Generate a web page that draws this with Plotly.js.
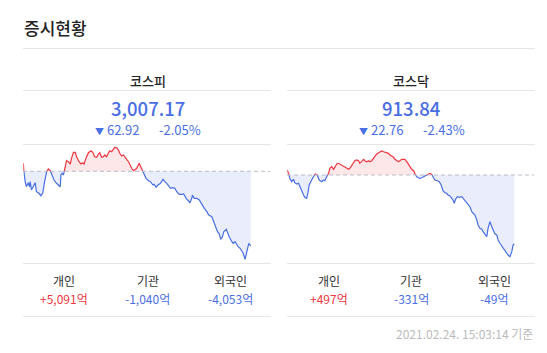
<!DOCTYPE html>
<html>
<head>
<meta charset="utf-8">
<script src="https://cdn.plot.ly/plotly-3.0.1.min.js"></script>
<style>
  html, body { margin: 0; padding: 0; background: #fff; }
  #chart { width: 547px; height: 353px; }
</style>
</head>
<body>
<div id="chart"></div>
<script>
// ---- data ----
const indexNames = ["코스피", "코스닥"];
const indexClose = [3007.17, 913.84];
const indexChange = [-62.92, -22.76];
const indexPct = [-2.05, -2.43];
const investorLabels = ["개인", "기관", "외국인"];
const kospiFlows = [5091, -1040, -4053];
const kosdaqFlows = [497, -331, -49];
const asOf = "2021.02.24. 15:03:14 기준";

// minutes after 09:00
const kospiMin = [0,1,3,5,8,10,11,13,16,19,21,25,28,31,34,36,40,43,46,49,53,59,60,62,64,67,69,72,75,77,80,83,85,89,92,95,97,100,104,108,111,114,117,120,122,125,128,130,133,136,138,141,144,146,149,152,154,157,160,162,165,168,170,173,176,178,181,185,188,191,193,196,200,203,207,209,212,215,219,223,226,229,233,235,238,242,245,249,253,256,260,263,266,269,270,273,277,281,284,286,289,293,296,301,303,306,310,313,315,318,320,324,326,329,333,335,338,341,343,346,349,351,354,355,358,360,363];
const kospiVal = [3076.83,3069.75,3061.33,3057.12,3060.49,3057.12,3061.33,3054.34,3057.12,3060.49,3052.91,3051.56,3049.54,3051.56,3061.33,3068.91,3072.03,3070.60,3066.97,3062.76,3059.98,3057.12,3066.97,3068.41,3066.97,3073.96,3079.02,3078.18,3076.24,3081.04,3086.09,3086.09,3082.39,3078.18,3076.24,3077.33,3076.24,3081.04,3085.76,3087.44,3086.09,3082.39,3081.88,3084.66,3085.76,3081.88,3082.39,3083.82,3082.39,3085.76,3087.44,3086.60,3088.62,3090.31,3089.97,3088.03,3085.25,3082.98,3083.82,3081.88,3080.20,3078.18,3075.40,3072.62,3070.60,3071.18,3072.62,3076.83,3073.96,3069.75,3066.97,3064.19,3062.17,3061.33,3058.55,3059.14,3056.61,3058.55,3059.98,3063.35,3061.33,3059.98,3057.12,3055.77,3056.28,3055.77,3052.91,3050.72,3050.72,3050.97,3047.35,3045.92,3043.64,3047.35,3050.13,3047.35,3047.35,3045.92,3043.14,3040.86,3038.92,3036.06,3033.28,3031.85,3029.07,3024.86,3019.21,3017.28,3012.81,3015.00,3019.21,3021.24,3018.37,3014.50,3010.79,3009.44,3010.79,3008.01,3006.58,3005.23,3002.37,3001.02,2996.00,2998.16,3003.80,3009.44,3007.17];

const kosdaqMin = [0,2,4,7,10,12,15,18,20,23,26,28,31,33,35,39,42,45,48,51,55,58,60,63,66,68,71,74,76,79,82,84,87,90,92,95,98,100,103,106,108,111,114,116,119,122,124,127,130,132,135,138,140,143,146,148,151,154,156,159,162,164,167,170,172,175,178,183,188,191,194,196,199,202,204,207,210,212,215,220,225,228,231,233,236,240,243,246,249,252,255,257,260,263,265,267,269,272,275,279,281,284,287,289,292,295,297,300,303,305,308,311,313,316,319,321,324,327,329,332,335,337,340,343,345,348,351,353,356,359,361,363];
const kosdaqVal = [938.25,937.16,935.51,934.39,935.18,934.06,933.63,933.86,932.74,931.09,930.00,929.24,928.91,930.76,933.30,934.95,936.27,936.93,936.55,934.95,934.39,934.95,934.72,936.04,937.16,938.81,939.34,938.48,939.34,940.23,940.46,940.23,939.90,939.34,939.14,938.81,938.48,938.81,939.90,940.66,941.32,941.55,941.32,940.46,940.99,941.78,941.32,940.99,941.32,940.99,941.32,942.11,942.87,943.53,943.96,944.29,944.52,944.29,944.19,943.96,943.76,943.20,942.87,942.44,941.78,941.32,940.99,941.78,941.78,940.99,939.90,939.14,938.48,938.02,936.93,936.04,935.71,935.51,935.71,936.27,936.83,937.16,936.83,935.84,934.95,934.72,934.39,933.30,931.42,930.76,930.56,930.00,929.67,928.91,928.35,927.27,928.58,929.44,929.24,929.44,928.91,928.35,927.46,926.70,926.14,924.49,923.97,923.41,921.76,920.11,919.02,918.69,917.90,917.14,916.25,919.02,921.20,919.55,918.69,917.14,916.81,915.16,914.07,913.18,912.42,911.86,910.97,910.21,909.65,911.30,913.51,913.84];

// ---- styling ----
const W = 547, H = 353;
const RED = "#ec3641", BLUE = "#4a6ee3";
const RED_FILL = "rgba(236,54,65,0.12)", BLUE_FILL = "rgba(74,110,227,0.12)";
const FONT = "'Noto Sans CJK KR', 'Noto Sans', sans-serif";
const px = v => v / W;
const py = v => 1 - v / H;

function withCrossings(xs, ys, base) {
  const X = [], Y = [];
  for (let i = 0; i < xs.length; i++) {
    X.push(xs[i]); Y.push(ys[i]);
    if (i < xs.length - 1 && (ys[i] - base) * (ys[i + 1] - base) < 0) {
      const t = (base - ys[i]) / (ys[i + 1] - ys[i]);
      X.push(xs[i] + t * (xs[i + 1] - xs[i])); Y.push(base);
    }
  }
  return [X, Y];
}

function panelTraces(mins, vals, base, xa, ya) {
  const [X, Y] = withCrossings(mins, vals, base);
  const baseY = X.map(() => base);
  const common = { x: X, xaxis: xa, yaxis: ya, mode: "lines", hoverinfo: "skip", showlegend: false };
  return [
    Object.assign({}, common, { y: baseY, line: { width: 0 } }),
    Object.assign({}, common, { y: Y.map(v => Math.max(v, base)), line: { width: 0 }, fill: "tonexty", fillcolor: RED_FILL }),
    Object.assign({}, common, { y: baseY, line: { width: 0 } }),
    Object.assign({}, common, { y: Y.map(v => Math.min(v, base)), line: { width: 0 }, fill: "tonexty", fillcolor: BLUE_FILL }),
    Object.assign({}, common, { y: Y.map(v => v >= base ? v : null), line: { color: RED, width: 1.2 } }),
    Object.assign({}, common, { y: Y.map(v => v <= base ? v : null), line: { color: BLUE, width: 1.2 } })
  ];
}

const prev = indexClose.map((c, i) => +(c - indexChange[i]).toFixed(2));

const traces = [].concat(
  panelTraces(kospiMin, kospiVal, prev[0], "x", "y"),
  panelTraces(kosdaqMin, kosdaqVal, prev[1], "x2", "y2")
);

const fmt = n => Math.abs(n).toLocaleString("en-US");
const fmtSigned = n => (n > 0 ? "+" : "-") + fmt(n) + "억";

const panels = [
  { left: 23, right: 271, mid: 147.5, invMid: [64, 147.5, 230], flows: kospiFlows, chgX: 93, pctX: 157 },
  { left: 287, right: 535, mid: 411, invMid: [328.5, 411, 494], flows: kosdaqFlows, chgX: 357, pctX: 421 }
];

const annotations = [];
const shapes = [];
function ann(text, x, y, size, color, xanchor, weight) {
  annotations.push({ text, x: px(x), y: py(y), xref: "paper", yref: "paper", showarrow: false,
    xanchor: xanchor || "center", yanchor: "middle", font: { family: FONT, size, color, weight: weight || 400 } });
}
function hline(x0, x1, y, color) {
  shapes.push({ type: "line", xref: "paper", yref: "paper", x0: px(x0), x1: px(x1), y0: py(y), y1: py(y),
    line: { color: color || "#e6e6e6", width: 1 } });
}

ann("증시현황", 22, 27.5, 17, "#222", "left", 500);
hline(23, 535, 48.5);

panels.forEach((p, i) => {
  ann(indexNames[i], p.mid, 80, 13, "#222", "center", 500);
  hline(p.left, p.right, 90.5);
  const cc = indexChange[i] < 0 ? BLUE : RED;
  ann(indexClose[i].toLocaleString("en-US", { minimumFractionDigits: 2 }), p.mid, 108, 18.5, cc, "center", 500);
  ann("<span style='font-size:9px'>" + (indexChange[i] < 0 ? "▼" : "▲") + "</span> " + Math.abs(indexChange[i]).toFixed(2), p.chgX, 129.5, 13, cc, "left");
  ann(indexPct[i].toFixed(2) + "%", p.pctX, 129.5, 13, cc, "left");
  hline(p.left, p.right, 144.5);
  hline(p.left, p.right, 263.5);
  shapes.push({ type: "line", xref: "paper", yref: i === 0 ? "y" : "y2", x0: px(p.left), x1: px(p.right - 1),
    y0: prev[i], y1: prev[i], line: { color: "#b9bdc9", width: 1, dash: "4px,3px" } });
  investorLabels.forEach((lab, k) => {
    ann(lab, p.invMid[k], 280.5, 12, "#333");
    ann(fmtSigned(p.flows[k]), p.invMid[k], 298.5, 12, p.flows[k] > 0 ? RED : BLUE);
  });
  hline(p.left, p.right, 316.5);
});
ann(asOf, 535, 333, 12, "#bbbbbb", "right");

const yTop = py(144), yBot = py(263);
const axisHidden = { visible: false, fixedrange: true };
const layout = {
  width: W, height: H,
  margin: { l: 0, r: 0, t: 0, b: 0 },
  paper_bgcolor: "#fff", plot_bgcolor: "rgba(0,0,0,0)",
  showlegend: false,
  xaxis: Object.assign({ domain: [px(23.3), px(267.6)], range: [0, 390] }, axisHidden),
  yaxis: Object.assign({ domain: [yBot, yTop], range: [2992.85, 3093.09] }, axisHidden),
  xaxis2: Object.assign({ domain: [px(287.3), px(531.2)], range: [0, 390], anchor: "y2" }, axisHidden),
  yaxis2: Object.assign({ domain: [yBot, yTop], range: [907.57, 946.83], anchor: "x2" }, axisHidden),
  annotations, shapes
};

Plotly.newPlot("chart", traces, layout, { staticPlot: true, displayModeBar: false });
</script>
</body>
</html>
